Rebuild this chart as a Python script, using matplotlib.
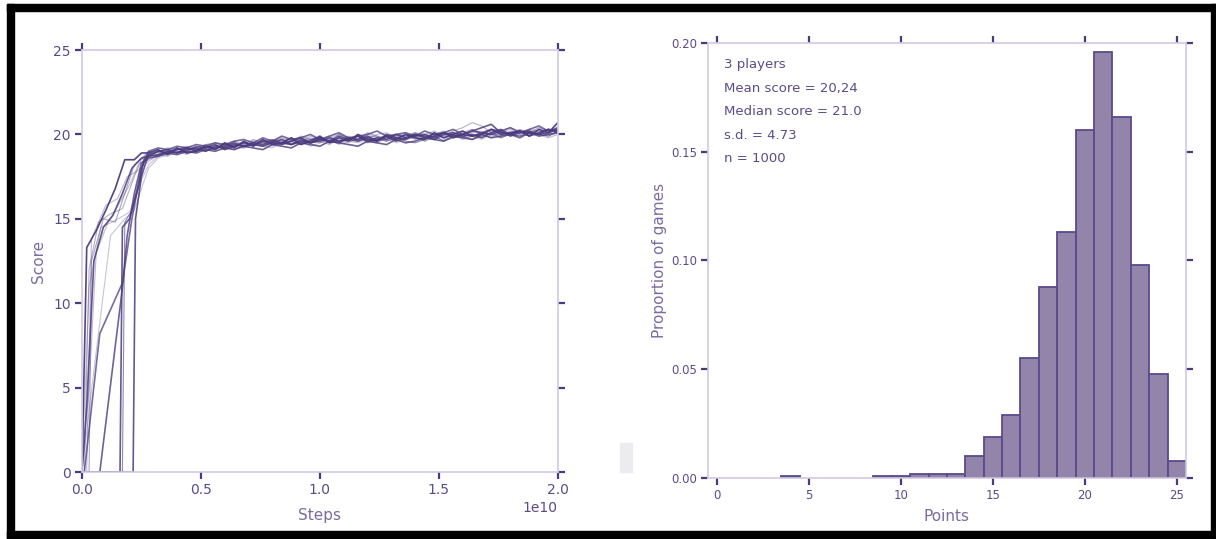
import matplotlib.pyplot as plt
import numpy as np
from matplotlib.patches import Rectangle
from matplotlib.ticker import FormatStrFormatter

# Farben
dunkel = '#4b3b7e'
text_farbe = '#5b4b8a'
label_farbe = '#7b6ba0'
spine_farbe = '#d2cae2'
balken_farbe = '#9384aa'
balken_rand = '#5b4a8c'

# --- Daten links: Trainingsverlaeufe (Steps in 1e10) ---
# Anfangsphase jeder Runde (x, y), danach Plateau ab 0.28e10 bis 2.0e10
fruehe_x = {
    'A': [0.0, 0.02, 0.06, 0.10, 0.14, 0.18, 0.22, 0.25],
    'B': [0.0, 0.02, 0.05, 0.09, 0.13, 0.17, 0.21, 0.25],
    'C': [0.01, 0.03, 0.07, 0.12, 0.17, 0.22, 0.25],
    'D': [0.075, 0.17, 0.19, 0.22, 0.25],
    'E': [0.01, 0.075, 0.17, 0.21, 0.25],
    'F': [0.0, 0.16, 0.17, 0.20, 0.24, 0.26],
    'G': [0.0, 0.215, 0.225, 0.25, 0.27],
    'H': [0.0, 0.03, 0.06, 0.11, 0.16, 0.20, 0.24],
    'I': [0.03, 0.04, 0.09, 0.14, 0.18, 0.22, 0.26],
    'J': [0.0, 0.17, 0.18, 0.21, 0.25],
    'K': [0.0, 0.03, 0.08, 0.14, 0.20, 0.24],
    'L': [0.02, 0.04, 0.10, 0.15, 0.19, 0.23],
    'M': [0.0, 0.05, 0.12, 0.18, 0.22, 0.25],
}
fruehe_y = {
    'A': [0, 13.3, 14.3, 15.5, 16.8, 18.5, 18.5, 18.9],
    'B': [0, 3.9, 12.5, 14.5, 15.2, 16.5, 18.0, 18.6],
    'C': [0, 12.0, 14.8, 15.3, 15.6, 17.5, 18.5],
    'D': [0, 10.9, 14.0, 16.5, 18.3],
    'E': [0, 8.2, 11.2, 15.0, 18.0],
    'F': [0, 0, 14.5, 15.0, 17.0, 18.5],
    'G': [0, 0, 15.0, 17.5, 18.4],
    'H': [0, 5.0, 13.0, 14.8, 16.0, 17.0, 18.3],
    'I': [0, 12.5, 15.0, 14.8, 16.5, 18.2, 18.7],
    'J': [0, 0, 14.8, 15.5, 18.0],
    'K': [0, 11.0, 14.5, 14.9, 15.4, 17.0],
    'L': [0, 13.8, 15.8, 16.2, 17.5, 17.8],
    'M': [0, 6.0, 14.0, 15.0, 15.5, 16.8],
}
plateau_y = {
    'A': [18.9, 19.1, 18.8, 19.2, 18.9, 19.0, 19.3, 19.1, 19.5, 19.2, 19.6, 19.3, 19.7, 19.4, 19.5, 19.8, 19.4, 19.6, 19.9, 19.5, 19.8, 19.6,
          20.0, 19.7, 19.6, 19.9, 19.7, 20.0, 19.8, 19.7, 20.1, 19.8, 20.0, 20.2, 19.9, 20.0, 20.3, 20.0, 20.1, 20.2, 19.9, 20.3, 20.1, 20.7],
    'B': [18.7, 18.8, 19.0, 18.9, 19.1, 19.2, 19.0, 19.3, 19.2, 19.4, 19.3, 19.5, 19.4, 19.6, 19.5, 19.4, 19.7, 19.5, 19.6, 19.8, 19.6, 19.7,
          19.9, 19.6, 19.8, 19.7, 20.0, 19.8, 19.9, 20.0, 19.8, 20.1, 19.9, 20.0, 20.2, 20.4, 20.6, 20.1, 20.0, 20.2, 20.1, 20.0, 20.3, 20.1],
    'C': [18.9, 18.8, 19.1, 19.0, 18.9, 19.3, 19.1, 19.2, 19.4, 19.3, 19.2, 19.5, 19.3, 19.6, 19.4, 19.7, 19.5, 19.8, 19.5, 19.7, 19.6, 19.9,
          19.6, 19.8, 19.9, 19.6, 19.8, 20.0, 19.7, 19.9, 20.0, 19.9, 20.2, 20.4, 20.7, 20.5, 20.1, 19.9, 20.2, 20.0, 20.3, 20.2, 20.0, 20.4],
    'D': [18.6, 18.7, 18.9, 18.8, 19.0, 18.9, 19.1, 19.0, 19.2, 19.1, 19.3, 19.2, 19.1, 19.4, 19.3, 19.2, 19.5, 19.4, 19.3, 19.6, 19.5, 19.4,
          19.3, 19.6, 19.5, 19.4, 19.7, 19.5, 19.6, 19.8, 19.7, 19.6, 19.9, 19.8, 19.7, 20.0, 19.8, 19.9, 20.0, 19.8, 20.1, 19.9, 20.0, 20.1],
    'E': [19.0, 19.2, 19.1, 19.3, 19.2, 19.4, 19.3, 19.5, 19.4, 19.6, 19.7, 19.5, 19.8, 19.6, 19.9, 19.7, 19.8, 20.0, 19.7, 19.9, 20.1, 19.8,
          19.9, 20.0, 20.2, 19.9, 20.0, 20.1, 19.9, 20.2, 20.0, 20.1, 20.3, 20.0, 20.2, 20.1, 20.3, 20.2, 20.4, 20.1, 20.3, 20.5, 20.2, 20.4],
    'F': [18.8, 19.0, 18.9, 19.1, 19.2, 19.0, 19.2, 19.4, 19.1, 19.3, 19.5, 19.4, 19.3, 19.5, 19.7, 19.4, 19.6, 19.5, 19.8, 19.6, 19.5, 19.8,
          19.7, 19.9, 19.6, 20.0, 19.8, 19.7, 20.0, 19.8, 19.9, 20.1, 19.8, 20.0, 19.9, 20.1, 20.0, 20.2, 19.9, 20.1, 20.2, 20.0, 20.1, 20.3],
    'G': [18.7, 19.0, 19.1, 18.9, 19.2, 19.1, 19.3, 19.2, 19.3, 19.5, 19.3, 19.4, 19.6, 19.5, 19.4, 19.6, 19.8, 19.5, 19.7, 19.6, 19.9, 19.7,
          19.6, 19.8, 19.7, 19.9, 19.6, 19.8, 20.0, 19.9, 19.7, 20.0, 20.1, 19.9, 20.0, 19.8, 20.1, 20.3, 20.0, 20.2, 19.9, 20.1, 20.3, 20.2],
    'H': [18.5, 18.8, 18.7, 19.0, 18.9, 19.1, 19.0, 19.2, 19.3, 19.1, 19.4, 19.3, 19.5, 19.3, 19.6, 19.4, 19.5, 19.7, 19.6, 19.4, 19.7, 19.5,
          19.8, 19.6, 19.5, 19.8, 19.9, 19.7, 19.8, 19.6, 19.9, 19.8, 20.0, 19.7, 19.9, 20.0, 19.8, 20.1, 20.0, 19.9, 20.2, 20.0, 19.8, 20.0],
    'I': [19.0, 18.9, 19.2, 19.1, 19.3, 19.2, 19.4, 19.5, 19.3, 19.6, 19.4, 19.7, 19.5, 19.6, 19.8, 19.6, 19.9, 19.7, 19.8, 19.6, 20.0, 19.8,
          19.7, 20.1, 19.9, 19.8, 20.0, 19.9, 20.1, 19.8, 20.0, 20.2, 19.9, 20.1, 20.3, 20.0, 20.2, 20.1, 20.0, 20.3, 20.1, 20.4, 20.2, 20.3],
    'J': [18.8, 18.7, 19.0, 19.2, 19.0, 19.3, 19.2, 19.1, 19.4, 19.3, 19.5, 19.4, 19.6, 19.7, 19.5, 19.6, 19.4, 19.7, 19.8, 19.5, 19.6, 19.7,
          19.9, 19.5, 19.7, 19.6, 19.8, 19.6, 19.5, 19.7, 19.9, 19.6, 19.8, 19.9, 19.7, 19.9, 20.1, 19.8, 20.0, 19.9, 20.1, 20.0, 19.9, 20.2],
    'K': [18.2, 18.7, 19.0, 18.9, 19.1, 19.3, 19.2, 19.4, 19.2, 19.5, 19.3, 19.6, 19.4, 19.5, 19.7, 19.5, 19.8, 19.6, 19.7, 19.9, 19.6, 19.8,
          19.7, 20.0, 19.8, 19.7, 19.9, 20.1, 19.8, 20.0, 19.9, 20.1, 20.0, 19.8, 20.1, 20.2, 19.9, 20.1, 20.3, 20.0, 20.2, 20.1, 20.3, 20.2],
    'L': [18.4, 18.8, 18.9, 19.1, 19.0, 19.2, 19.4, 19.3, 19.5, 19.4, 19.3, 19.6, 19.5, 19.7, 19.6, 19.8, 19.6, 19.9, 19.7, 19.8, 20.0, 19.7,
          19.9, 19.8, 20.0, 20.1, 19.8, 19.9, 20.1, 20.0, 20.2, 19.9, 20.1, 20.0, 20.3, 20.1, 20.0, 20.2, 20.4, 20.2, 20.0, 20.3, 20.1, 20.4],
    'M': [18.0, 18.6, 18.8, 19.0, 18.8, 19.1, 19.0, 19.2, 19.1, 19.3, 19.2, 19.4, 19.3, 19.2, 19.5, 19.4, 19.6, 19.3, 19.5, 19.7, 19.4, 19.6,
          19.5, 19.7, 19.6, 19.8, 19.5, 19.7, 19.9, 19.6, 19.8, 19.7, 20.0, 19.8, 19.9, 19.7, 20.0, 19.8, 20.1, 19.9, 20.0, 20.2, 19.9, 20.1],
}
# Deckkraft pro Runde (die dunklen stechen hervor)
deckkraft = {'A': 0.95, 'B': 0.85, 'C': 0.4, 'D': 0.8, 'E': 0.75, 'F': 0.85,
             'G': 0.85, 'H': 0.35, 'I': 0.45, 'J': 0.6, 'K': 0.3, 'L': 0.35, 'M': 0.3}

# --- Daten rechts: Histogramm der Punkte ---
punkte = list(range(0, 26))
anteil = [0, 0, 0, 0, 0.001, 0, 0, 0, 0, 0.001, 0.001, 0.002, 0.002, 0.002,
          0.010, 0.019, 0.029, 0.055, 0.088, 0.113, 0.160, 0.196, 0.166, 0.098, 0.048, 0.008]
info_text = "3 players\nMean score = 20,24\nMedian score = 21.0\ns.d. = 4.73\nn = 1000"

plt.rcParams['font.family'] = 'DejaVu Sans'

fig = plt.figure(figsize=(12.16, 5.39), dpi=100)
ax1 = fig.add_axes([0.0674, 0.1243, 0.3914, 0.7829])
ax2 = fig.add_axes([0.5822, 0.1132, 0.3931, 0.8071])

# linke Grafik
for k in fruehe_x:
    py = plateau_y[k]
    px = np.linspace(0.28, 2.0, len(py))
    xs = np.concatenate([fruehe_x[k], px]) * 1e10
    ys = np.concatenate([fruehe_y[k], py])
    lw = 1.2 if deckkraft[k] > 0.7 else 0.8
    ax1.plot(xs, ys, color=dunkel, alpha=deckkraft[k], lw=lw)

ax1.set_xlim(0, 2e10)
ax1.set_ylim(0, 25)
ax1.set_xticks([0, 0.5e10, 1.0e10, 1.5e10, 2.0e10])
ax1.set_yticks([0, 5, 10, 15, 20, 25])
ax1.set_xlabel("Steps", color=label_farbe, fontsize=11, labelpad=8)
ax1.set_ylabel("Score", color=label_farbe, fontsize=11, labelpad=5)
ax1.xaxis.get_offset_text().set_color(text_farbe)
ax1.xaxis.get_offset_text().set_fontsize(10)

# rechte Grafik
nz = [i for i in range(len(punkte)) if anteil[i] > 0]
ax2.bar([punkte[i] for i in nz], [anteil[i] for i in nz], width=1.0,
        color=balken_farbe, edgecolor=balken_rand, linewidth=1.3)
ax2.set_xlim(-0.5, 25.5)
ax2.set_ylim(0, 0.2)
ax2.set_xticks([0, 5, 10, 15, 20, 25])
ax2.set_yticks([0, 0.05, 0.10, 0.15, 0.20])
ax2.yaxis.set_major_formatter(FormatStrFormatter('%.2f'))
ax2.set_xlabel("Points", color=label_farbe, fontsize=11, labelpad=5)
ax2.set_ylabel("Proportion of games", color=label_farbe, fontsize=11, labelpad=3)
ax2.text(0.033, 0.965, info_text, transform=ax2.transAxes, va='top', ha='left',
         fontsize=9.5, color=text_farbe, linespacing=2.05)

for ax, gr in [(ax1, 10), (ax2, 8.5)]:
    for s in ax.spines.values():
        s.set_color(spine_farbe)
        s.set_linewidth(1.2)
    ax.tick_params(direction='out', length=5, width=1.6, color=dunkel,
                   labelcolor=text_farbe, labelsize=gr, top=True, right=True, pad=3)

# grauer Fleck und schwarzer Rahmen
fig.patches.append(Rectangle((620 / 1216, 1 - 472 / 539), 12 / 1216, 29 / 539,
                             transform=fig.transFigure, color='#ececf0', zorder=0))
for (x0, y0, w, h) in [(7, 4, 7, 535), (7, 4, 1209, 7), (1211, 4, 5, 535), (7, 531, 1209, 8)]:
    fig.patches.append(Rectangle((x0 / 1216, 1 - (y0 + h) / 539), w / 1216, h / 539,
                                 transform=fig.transFigure, color='black', zorder=10))

plt.savefig('out.png', dpi=100)
